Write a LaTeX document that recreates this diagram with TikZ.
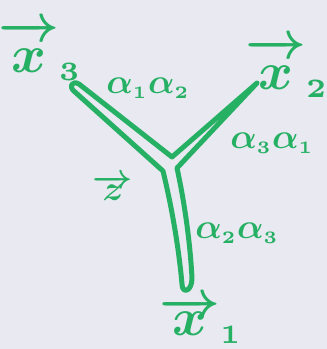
\documentclass[tikz,border=0pt]{standalone}
\usepackage{graphicx}
\definecolor{bg}{RGB}{233,233,242}
\definecolor{marker}{RGB}{38,176,100}
\newcommand{\mkbig}[1]{\scalebox{5.3}{\boldmath$#1$}}
\newcommand{\mkmid}[1]{\scalebox{3.5}{\boldmath$#1$}}
\newcommand{\vx}[1]{\overrightarrow{\vphantom{X}\,x\,}_{\scriptscriptstyle #1}}
\newcommand{\vxlow}[1]{\overrightarrow{\,x\,}_{\scriptscriptstyle #1}}
\begin{document}
\begin{tikzpicture}[x=1pt,y=-1pt,
  ystroke/.style={draw=marker,line width=5pt,line join=round,line cap=round},
  lbl/.style={text=marker,inner sep=0pt}]
\fill[bg] (0,0) rectangle (327,349);
\useasboundingbox (0,0) rectangle (327,349);
% Y outline
\coordinate (ltip) at (79,84);
\coordinate (crotch) at (172,157);
\coordinate (rtip) at (257,83);
\coordinate (rj) at (177,168);
\coordinate (sb) at (192,278);
\coordinate (sl) at (182,284);
\coordinate (lj) at (163,171);
\coordinate (ll) at (75,92);
\draw[ystroke] (ltip) -- (crotch) -- (rtip) -- (rj)
  .. controls (184,200) and (190,240) .. (sb)
  .. controls (192,292) and (182,294) .. (sl)
  .. controls (178,240) and (170,200) .. (lj)
  -- (ll) .. controls (68,87) and (72,80) .. (ltip) -- cycle;
% labels
\node[lbl] (x3) at (40,51) {\mkbig{\vx{3}}};
\node[lbl] (a12) at (148,88) {\mkmid{\alpha_{\scriptscriptstyle 1}\alpha_{\scriptscriptstyle 2}}};
\node[lbl] (x2) at (287,68) {\mkbig{\vx{2}}};
\node[lbl] (a31) at (272,143) {\mkmid{\alpha_{\scriptscriptstyle 3}\alpha_{\scriptscriptstyle 1}}};
\node[lbl] (z) at (113,188) {\mkmid{\overrightarrow{z}}};
\node[lbl] (a23) at (237,233) {\mkmid{\alpha_{\scriptscriptstyle 2}\alpha_{\scriptscriptstyle 3}}};
\node[lbl] (x1) at (201,320) {\mkbig{\vxlow{1}}};
\end{tikzpicture}
\end{document}
